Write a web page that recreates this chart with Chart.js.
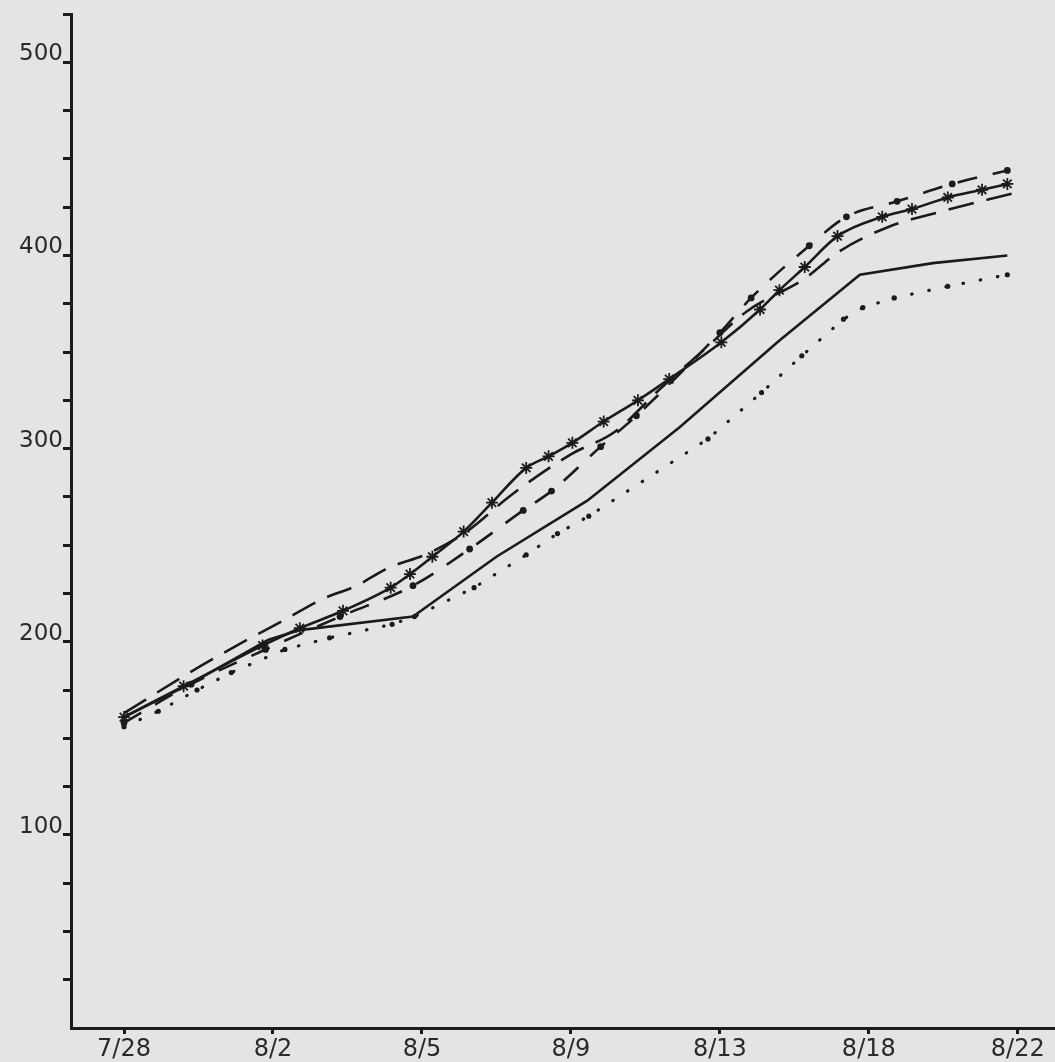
<!DOCTYPE html>
<html>
<head>
<meta charset="utf-8">
<script src="https://cdn.jsdelivr.net/npm/chart.js@4.4.1/dist/chart.umd.min.js"></script>
<style>
html,body{margin:0;padding:0;background:#e4e4e2;}
#wrap{width:1055px;height:1062px;position:relative;}
</style>
</head>
<body>
<div id="wrap"><canvas id="c"></canvas></div>
<script>
// ---- data ----
const xTickLabels = ['7/28','8/2','8/5','8/9','8/13','8/18','8/22'];
const xTickPositions = [0,1,2,3,4,5,6];
const yTickValues = [25,50,75,100,125,150,175,200,225,250,275,300,325,350,375,400,425,450,475,500,525];
const yLabelValues = [100,200,300,400,500];

// solid line
const solidPos = [0, 0.44, 0.97, 1.18, 1.94, 2.50, 3.11, 3.73, 4.40, 4.94, 5.43, 5.93];
const solidVal = [161, 178, 201, 206, 213, 244, 273, 311, 356, 390, 396, 400];

// dotted line
const dottedPos = [0, 0.23, 0.49, 0.72, 1.08, 1.38, 1.80, 1.95, 2.35, 2.70, 2.91, 3.12, 3.92, 4.28, 4.55, 4.83, 4.96, 5.17, 5.53, 5.93];
const dottedVal = [156, 164, 175, 184, 196, 202, 209, 213, 228, 245, 256, 265, 305, 329, 348, 367, 373, 378, 384, 390];

// line with star markers
const starPos = [0.0, 0.4, 0.93, 1.18, 1.47, 1.79, 1.92, 2.07, 2.28, 2.47, 2.70, 2.85, 3.01, 3.22, 3.45, 3.66, 4.01, 4.27, 4.40, 4.57, 4.79, 5.09, 5.29, 5.53, 5.76, 5.93];
const starVal = [161, 177, 198, 207, 216, 228, 235, 244, 257, 272, 290, 296, 303, 314, 325, 336, 355, 372, 382, 394, 410, 420, 424, 430, 434, 437];

// long-dash line
const dashPos = [0.0, 0.44, 0.78, 1.07, 1.33, 1.56, 1.77, 2.05, 2.3, 2.6, 3.0, 3.3, 3.6, 3.92, 4.18, 4.57, 4.8, 5.14, 5.5, 5.96];
const dashVal = [163, 184, 199, 211, 222, 229, 238, 246, 257, 276, 297, 309, 331, 353, 371, 388, 402, 415, 423, 432];

// dash-dot line with dots
const dashDotPos = [0.0, 0.45, 0.95, 1.45, 1.94, 2.32, 2.68, 2.87, 3.2, 3.44, 4.0, 4.21, 4.6, 4.85, 5.19, 5.56, 5.93];
const dashDotVal = [158, 178, 196, 213, 229, 248, 268, 278, 301, 317, 360, 378, 405, 420, 428, 437, 444];

// ---- build ----
const zip = (xs, ys) => xs.map((x, i) => ({x: x, y: ys[i]}));
const INK = '#1b1b1b';

const datasets = [
  {label:'solid', data: zip(solidPos, solidVal), borderColor: INK, borderWidth: 2.6,
   pointRadius: 0, tension: 0},
  {label:'dotted', data: zip(dottedPos, dottedVal), borderColor: INK, borderWidth: 3.2,
   borderDash: [0.5, 17], borderCapStyle: 'round',
   pointRadius: 2.6, pointBackgroundColor: INK, pointBorderWidth: 0, tension: 0},
  {label:'star', data: zip(starPos, starVal), borderColor: INK, borderWidth: 2.6,
   pointStyle: 'star', pointRadius: 6, pointBorderWidth: 1.8, pointBorderColor: INK, cubicInterpolationMode: 'monotone'},
  {label:'longdash', data: zip(dashPos, dashVal), borderColor: INK, borderWidth: 2.6,
   borderDash: [26, 13], pointRadius: 0, cubicInterpolationMode: 'monotone'},
  {label:'dashdot', data: zip(dashDotPos, dashDotVal), borderColor: INK, borderWidth: 2.6,
   borderDash: [20, 16], pointRadius: 3.4, pointBackgroundColor: INK, pointBorderWidth: 0,
   cubicInterpolationMode: 'monotone'}
];

new Chart(document.getElementById('c'), {
  type: 'line',
  data: { datasets },
  options: {
    responsive: true,
    maintainAspectRatio: false,
    animation: false,
    layout: { autoPadding: false, padding: { top: 14, right: 0, left: 0, bottom: 0 } },
    plugins: { legend: { display: false }, tooltip: { enabled: false } },
    scales: {
      x: {
        type: 'linear',
        min: -0.356,
        max: 6.25,
        afterBuildTicks: s => { s.ticks = xTickPositions.map(v => ({value: v})); },
        afterFit: s => { s.height = 34; s.paddingLeft = 0; s.paddingRight = 0; },
        ticks: {
          callback: (v) => { const i = xTickPositions.indexOf(v); return i >= 0 ? xTickLabels[i] : ''; },
          font: { family: 'DejaVu Sans', size: 24 },
          color: '#2a2a2a',
          padding: 1,
          maxRotation: 0,
          autoSkip: false
        },
        grid: { drawOnChartArea: false, drawTicks: true, tickLength: 6, tickWidth: 3, tickColor: INK },
        border: { display: true, color: INK, width: 3 }
      },
      y: {
        type: 'linear',
        min: 0,
        max: 525,
        afterBuildTicks: s => { s.ticks = yTickValues.map(v => ({value: v})); },
        afterFit: s => { s.width = 71; },
        ticks: {
          callback: (v) => yLabelValues.includes(v) ? String(v) : '',
          font: { family: 'DejaVu Sans', size: 23 },
          color: '#2a2a2a',
          padding: 0,
          labelOffset: -8,
          autoSkip: false
        },
        grid: { drawOnChartArea: false, drawTicks: true, tickLength: 8, tickWidth: 3, tickColor: INK },
        border: { display: true, color: INK, width: 3 }
      }
    }
  }
});
</script>
</body>
</html>
